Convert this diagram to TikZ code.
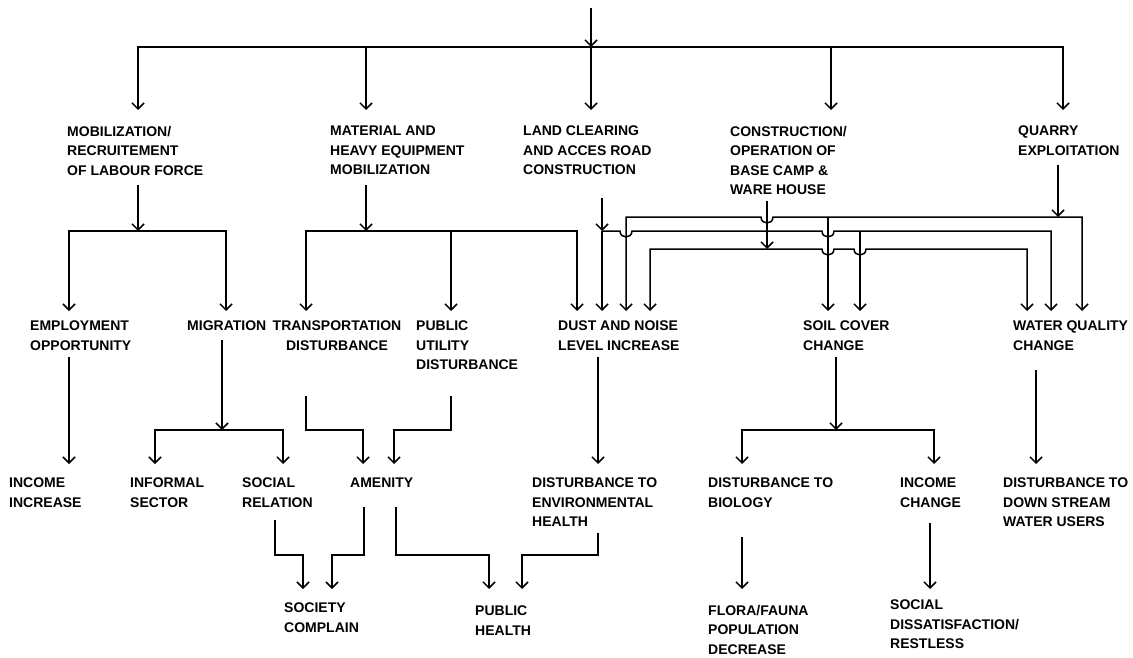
\documentclass[tikz,border=0pt]{standalone}
\usepackage{fontspec}
\setmainfont{Liberation Sans}
\usetikzlibrary{arrows.meta,calc}
\begin{document}
\begin{tikzpicture}[x=1pt,y=-1pt,
  >={Straight Barb[length=6pt,width=12pt]},
  lbl/.style={anchor=north west,inner sep=0pt,align=left,
    font=\bfseries\fontsize{14}{19.5}\selectfont},
  link/.style={line width=1.5pt,line join=miter},
  arr/.style={link,->},
  arr2/.style={link,<->}]
\useasboundingbox (0,0) rectangle (1133,658);

% ---- columns (x) ----
\coordinate (cMob) at (138,0);   \coordinate (cMat) at (366,0);
\coordinate (cTop) at (591,0);   \coordinate (cCons) at (831,0);
\coordinate (cQt) at (1063,0);
\coordinate (cMobA) at (69,0);   \coordinate (cMobB) at (226,0);
\coordinate (cMatA) at (306,0);  \coordinate (cMatB) at (451,0);
\coordinate (cMatC) at (577,0);
\coordinate (cLd) at (602,0);    \coordinate (cQd) at (626,0);
\coordinate (cCd) at (650,0);    \coordinate (cCv) at (767,0);
\coordinate (cQv) at (1058,0);
\coordinate (cSoilQ) at (828,0); \coordinate (cSoilL) at (860,0);
\coordinate (cWatC) at (1027,0); \coordinate (cWatL) at (1051,0);
\coordinate (cWatQ) at (1082,0);
\coordinate (cMig) at (222,0);   \coordinate (cMigA) at (155,0);
\coordinate (cMigB) at (283,0);
\coordinate (cAmA) at (363,0);   \coordinate (cAmB) at (394,0);
\coordinate (cDust) at (598,0);
\coordinate (cSoil) at (836,0);  \coordinate (cBioA) at (742,0);
\coordinate (cBioB) at (934,0);  \coordinate (cInc) at (930,0);
\coordinate (cWat) at (1036,0);
\coordinate (cSoc) at (275,0);   \coordinate (cScA) at (303,0);
\coordinate (cScB) at (332,0);   \coordinate (cAmL) at (364,0);
\coordinate (cAmR) at (396,0);   \coordinate (cPhA) at (489,0);
\coordinate (cPhB) at (522,0);

% ---- levels (y) ----
\coordinate (ySrc) at (0,8);   \coordinate (yHub) at (0,47);
\coordinate (yT1) at (0,110);
\coordinate (yQ0) at (0,165);  \coordinate (yM0) at (0,185);
\coordinate (yL0) at (0,198);  \coordinate (yC0) at (0,201);
\coordinate (yQ) at (0,217);   \coordinate (yL) at (0,231);
\coordinate (yC) at (0,249);   \coordinate (yT2) at (0,311);
\coordinate (yG0) at (0,340);  \coordinate (yE0) at (0,357);
\coordinate (yW0) at (0,370);  \coordinate (yP0) at (0,396);
\coordinate (yB2) at (0,430);  \coordinate (yT3) at (0,464);
\coordinate (yAm0) at (0,507); \coordinate (ySr0) at (0,520);
\coordinate (yIc0) at (0,523); \coordinate (yEn0) at (0,533);
\coordinate (yBi0) at (0,537); \coordinate (yJ) at (0,555);
\coordinate (yT4) at (0,589);

% ---- labels ----
\node[lbl] (mob)  at (67,126)   {MOBILIZATION/\\RECRUITEMENT\\OF LABOUR FORCE};
\node[lbl] (mat)  at (330,126)  {MATERIAL AND\\HEAVY EQUIPMENT\\MOBILIZATION};
\node[lbl] (land) at (523,126)  {LAND CLEARING\\AND ACCES ROAD\\CONSTRUCTION};
\node[lbl] (cons) at (730,126)  {CONSTRUCTION/\\OPERATION OF\\BASE CAMP \&\\WARE HOUSE};
\node[lbl] (quar) at (1018,126) {QUARRY\\EXPLOITATION};

\node[lbl] (emp)  at (30,321)   {EMPLOYMENT\\OPPORTUNITY};
\node[lbl] (mig)  at (187,321)  {MIGRATION};
\node[lbl,anchor=north,align=center] (trans) at (337,321) {TRANSPORTATION\\DISTURBANCE};
\node[lbl] (pub)  at (416,321)  {PUBLIC\\UTILITY\\DISTURBANCE};
\node[lbl] (dust) at (558,321)  {DUST AND NOISE\\LEVEL INCREASE};
\node[lbl] (soil) at (803,321)  {SOIL COVER\\CHANGE};
\node[lbl] (wq)   at (1013,321) {WATER QUALITY\\CHANGE};

\node[lbl] (inc)  at (9,478)    {INCOME\\INCREASE};
\node[lbl] (inf)  at (130,478)  {INFORMAL\\SECTOR};
\node[lbl] (soc)  at (242,478)  {SOCIAL\\RELATION};
\node[lbl] (amen) at (350,478)  {AMENITY};
\node[lbl] (env)  at (532,478)  {DISTURBANCE TO\\ENVIRONMENTAL\\HEALTH};
\node[lbl] (bio)  at (708,478)  {DISTURBANCE TO\\BIOLOGY};
\node[lbl] (incc) at (900,478)  {INCOME\\CHANGE};
\node[lbl] (down) at (1003,478) {DISTURBANCE TO\\DOWN STREAM\\WATER USERS};

\node[lbl] (socc) at (284,603)  {SOCIETY\\COMPLAIN};
\node[lbl] (pubh) at (475,606)  {PUBLIC\\HEALTH};
\node[lbl] (flora) at (708,605) {FLORA/FAUNA\\POPULATION\\DECREASE};
\node[lbl] (diss) at (890,600)  {SOCIAL\\DISSATISFACTION/\\RESTLESS};

% ---- trunk ----
\draw[arr] (cTop |- ySrc) -- (cTop |- yHub);
\draw[arr2] (cMob |- yT1) -- (cMob |- yHub) -- (cQt |- yHub) -- (cQt |- yT1);
\draw[arr] (cMat |- yHub) -- (cMat |- yT1);
\draw[arr] (cTop |- yHub) -- (cTop |- yT1);
\draw[arr] (cCons |- yHub) -- (cCons |- yT1);

% ---- mobilization of labour force ----
\draw[arr] (cMob |- yM0) -- (cMob |- yL);
\draw[arr2] (cMobA |- yT2) -- (cMobA |- yL) -- (cMobB |- yL) -- (cMobB |- yT2);

% ---- material and heavy equipment ----
\draw[arr] (cMat |- yM0) -- (cMat |- yL);
\draw[arr2] (cMatA |- yT2) -- (cMatA |- yL) -- (cMatC |- yL) -- (cMatC |- yT2);
\draw[arr] (cMatB |- yL) -- (cMatB |- yT2);

% ---- quarry exploitation ----
\draw[arr] (cQv |- yQ0) -- (cQv |- yQ);
\draw[arr2] (cQd |- yT2) -- (cQd |- yQ)
  -- ($(cCv |- yQ)+(-6,0)$) .. controls +(0,8) and +(0,8) .. ($(cCv |- yQ)+(6,0)$)
  -- (cWatQ |- yQ) -- (cWatQ |- yT2);
\draw[arr] (cSoilQ |- yQ) -- (cSoilQ |- yT2);

% ---- land clearing ----
\draw[arr] (cLd |- yL0) -- (cLd |- yL);
\draw[arr] (cLd |- yL) -- (cLd |- yT2);
\draw[arr] (cLd |- yL)
  -- ($(cQd |- yL)+(-6,0)$) .. controls +(0,8) and +(0,8) .. ($(cQd |- yL)+(6,0)$)
  -- ($(cSoilQ |- yL)+(-6,0)$) .. controls +(0,8) and +(0,8) .. ($(cSoilQ |- yL)+(6,0)$)
  -- (cWatL |- yL) -- (cWatL |- yT2);
\draw[arr] (cSoilL |- yL) -- (cSoilL |- yT2);

% ---- base camp construction ----
\draw[arr] (cCv |- yC0) -- (cCv |- yC);
\draw[arr2] (cCd |- yT2) -- (cCd |- yC)
  -- ($(cSoilQ |- yC)+(-6,0)$) .. controls +(0,8) and +(0,8) .. ($(cSoilQ |- yC)+(6,0)$)
  -- ($(cSoilL |- yC)+(-6,0)$) .. controls +(0,8) and +(0,8) .. ($(cSoilL |- yC)+(6,0)$)
  -- (cWatC |- yC) -- (cWatC |- yT2);

% ---- second level ----
\draw[arr] (cMobA |- yE0) -- (cMobA |- yT3);
\draw[arr] (cMig |- yG0) -- (cMig |- yB2);
\draw[arr2] (cMigA |- yT3) -- (cMigA |- yB2) -- (cMigB |- yB2) -- (cMigB |- yT3);
\draw[arr] (cMatA |- yP0) -- (cMatA |- yB2) -- (cAmA |- yB2) -- (cAmA |- yT3);
\draw[arr] (cMatB |- yP0) -- (cMatB |- yB2) -- (cAmB |- yB2) -- (cAmB |- yT3);
\draw[arr] (cDust |- yE0) -- (cDust |- yT3);
\draw[arr] (cSoil |- yE0) -- (cSoil |- yB2);
\draw[arr2] (cBioA |- yT3) -- (cBioA |- yB2) -- (cBioB |- yB2) -- (cBioB |- yT3);
\draw[arr] (cWat |- yW0) -- (cWat |- yT3);

% ---- third level ----
\draw[arr] (cSoc |- ySr0) -- (cSoc |- yJ) -- (cScA |- yJ) -- (cScA |- yT4);
\draw[arr] (cAmL |- yAm0) -- (cAmL |- yJ) -- (cScB |- yJ) -- (cScB |- yT4);
\draw[arr] (cAmR |- yAm0) -- (cAmR |- yJ) -- (cPhA |- yJ) -- (cPhA |- yT4);
\draw[arr] (cDust |- yEn0) -- (cDust |- yJ) -- (cPhB |- yJ) -- (cPhB |- yT4);
\draw[arr] (cBioA |- yBi0) -- (cBioA |- yT4);
\draw[arr] (cInc |- yIc0) -- (cInc |- yT4);
\end{tikzpicture}
\end{document}
